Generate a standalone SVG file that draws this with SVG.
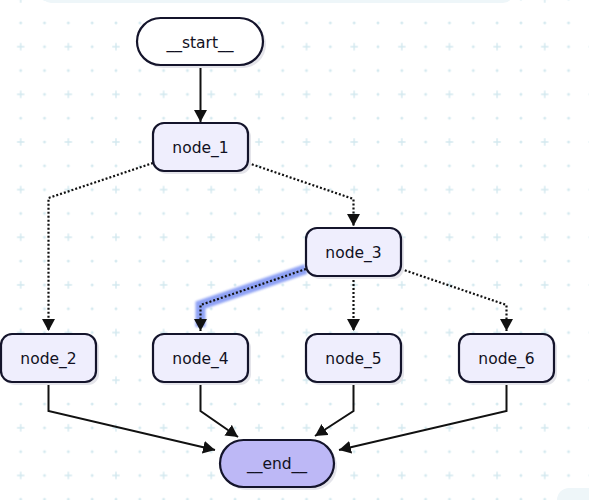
<svg xmlns="http://www.w3.org/2000/svg" width="589" height="500" viewBox="0 0 589 500">
  <style>
    .node rect.box { fill: #efeefd; stroke: #14142b; stroke-width: 2.2; }
    .node rect.shadow { fill: #e4e4ea; }
    .node text { font-family: "DejaVu Sans", "Noto Sans", sans-serif; font-size: 15.5px; fill: #111122; text-anchor: middle; }
    .term rect.box { fill: #bdb8f6; }
    .start rect.box { fill: #ffffff; }
    .edge { fill: none; stroke: #111; stroke-width: 2; }
    .dotted { stroke-dasharray: 2 2; stroke-width: 2.2; }
  </style>
  <defs>
    <pattern id="grid" patternUnits="userSpaceOnUse" x="8.79" y="34.79" width="47.64" height="47.64">
      <path d="M8.2,11.91 H15.6 M11.91,8.2 V15.6" stroke="#d3e9ef" stroke-width="1.4"/>
      <circle cx="35.73" cy="11.91" r="1.5" fill="#d6eaf0"/>
      <circle cx="11.91" cy="35.73" r="1.5" fill="#d6eaf0"/>
      <circle cx="35.73" cy="35.73" r="1.5" fill="#d6eaf0"/>
    </pattern>
    <marker id="arrow" markerUnits="userSpaceOnUse" markerWidth="13" markerHeight="13" refX="12" refY="6.5" orient="auto" viewBox="0 0 13 13">
      <path d="M0,0 L12,6.5 L0,13 z" fill="#111"/>
    </marker>
    <filter id="soft" x="-20%" y="-20%" width="140%" height="140%">
      <feGaussianBlur stdDeviation="0.9"/>
    </filter>
  </defs>

  <rect x="0" y="0" width="589" height="500" fill="#ffffff"/>
  <rect x="0" y="0" width="589" height="500" fill="url(#grid)"/>
  <rect x="41" y="-20" width="472" height="23" rx="10" fill="#eef6f9"/>
  <rect x="557" y="488" width="60" height="40" rx="12" fill="#eef6f9"/>

  <g id="connectors">
    <path d="M306,269 L200.5,305 L200.5,327" fill="none" stroke="#7c92f3" stroke-width="10" stroke-linejoin="miter" opacity="0.85" filter="url(#soft)"/>
    <path class="edge" d="M200.5,65 L200.5,122" marker-end="url(#arrow)"/>
    <path class="edge dotted" d="M153,163 L48.5,198 L48.5,331" marker-end="url(#arrow)"/>
    <path class="edge dotted" d="M248,163 L353.5,199 L353.5,226" marker-end="url(#arrow)"/>
    <path class="edge dotted" d="M306,269 L200.5,305 L200.5,331" marker-end="url(#arrow)"/>
    <path class="edge dotted" d="M353.5,276 L353.5,331" marker-end="url(#arrow)"/>
    <path class="edge dotted" d="M401,269 L506.5,305 L506.5,331" marker-end="url(#arrow)"/>
    <path class="edge" d="M48.5,382 L48.5,411 L215,450" marker-end="url(#arrow)"/>
    <path class="edge" d="M200.5,382 L200.5,411 L238,437" marker-end="url(#arrow)"/>
    <path class="edge" d="M353.5,382 L353.5,411 L315,436" marker-end="url(#arrow)"/>
    <path class="edge" d="M506.5,382 L506.5,411 L339,450" marker-end="url(#arrow)"/>
  </g>

  <g id="start" class="node start">
    <rect class="shadow" x="140" y="21" width="126" height="47" rx="23.5"/>
    <rect class="box" x="137" y="18" width="126" height="47" rx="23.5"/>
    <text x="200" y="47.5">__start__</text>
  </g>
  <g id="node_1" class="node">
    <rect class="shadow" x="156" y="126" width="95" height="48" rx="11"/>
    <rect class="box" x="153" y="123" width="95" height="48" rx="11"/>
    <text x="200.5" y="152.5">node_1</text>
  </g>
  <g id="node_3" class="node">
    <rect class="shadow" x="309" y="231" width="95" height="48" rx="11"/>
    <rect class="box" x="306" y="228" width="95" height="48" rx="11"/>
    <text x="353.5" y="257.5">node_3</text>
  </g>
  <g id="node_2" class="node">
    <rect class="shadow" x="4" y="337" width="95" height="48" rx="11"/>
    <rect class="box" x="1" y="334" width="95" height="48" rx="11"/>
    <text x="48.5" y="363.5">node_2</text>
  </g>
  <g id="node_4" class="node">
    <rect class="shadow" x="156" y="337" width="95" height="48" rx="11"/>
    <rect class="box" x="153" y="334" width="95" height="48" rx="11"/>
    <text x="200.5" y="363.5">node_4</text>
  </g>
  <g id="node_5" class="node">
    <rect class="shadow" x="309" y="337" width="95" height="48" rx="11"/>
    <rect class="box" x="306" y="334" width="95" height="48" rx="11"/>
    <text x="353.5" y="363.5">node_5</text>
  </g>
  <g id="node_6" class="node">
    <rect class="shadow" x="462" y="337" width="95" height="48" rx="11"/>
    <rect class="box" x="459" y="334" width="95" height="48" rx="11"/>
    <text x="506.5" y="363.5">node_6</text>
  </g>
  <g id="end" class="node term">
    <rect class="shadow" x="223" y="443" width="114" height="47" rx="23.5"/>
    <rect class="box" x="220" y="440" width="114" height="47" rx="23.5"/>
    <text x="277" y="469">__end__</text>
  </g>
</svg>
